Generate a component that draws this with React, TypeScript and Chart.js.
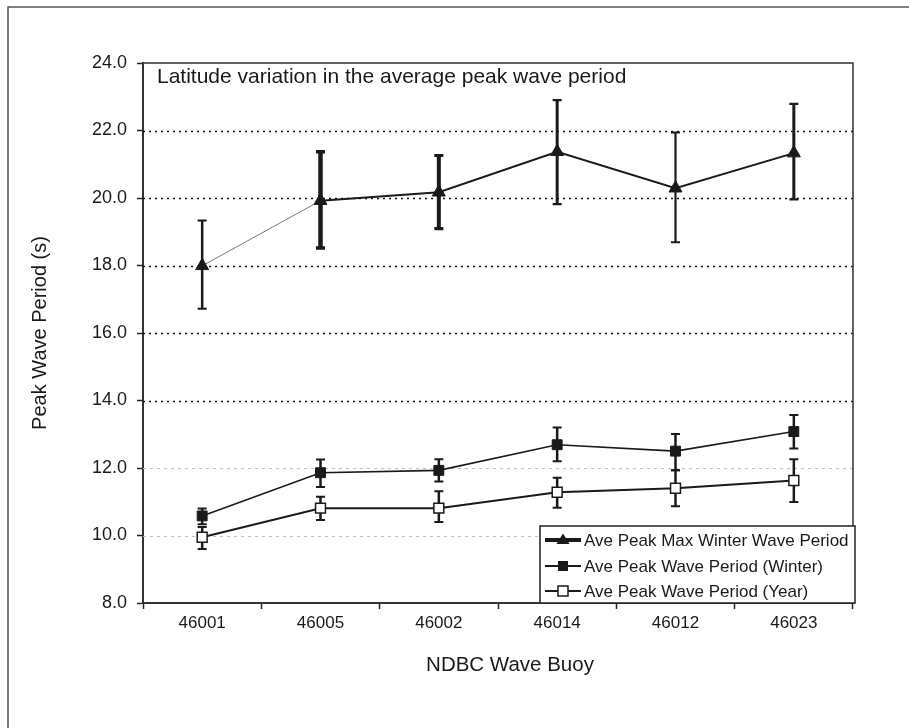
import React, { useEffect, useRef } from "react";
import { Chart, registerables } from "chart.js";

Chart.register(...registerables);

const CATEGORIES = ["46001", "46005", "46002", "46014", "46012", "46023"];

const MAX_WINTER = [17.99, 19.92, 20.17, 21.37, 20.29, 21.33];
const MAX_WINTER_LOW = [16.72, 18.52, 19.09, 19.82, 18.69, 19.96];
const MAX_WINTER_HIGH = [19.33, 21.37, 21.26, 22.9, 21.94, 22.79];

const WINTER = [10.58, 11.86, 11.93, 12.69, 12.5, 13.08];
const WINTER_LOW = [10.33, 11.44, 11.6, 12.2, 11.93, 12.58];
const WINTER_HIGH = [10.8, 12.25, 12.26, 13.2, 13.01, 13.57];

const YEAR = [9.95, 10.81, 10.81, 11.28, 11.4, 11.63];
const YEAR_LOW = [9.6, 10.46, 10.4, 10.82, 10.87, 10.99];
const YEAR_HIGH = [10.25, 11.15, 11.31, 11.71, 11.93, 12.26];

const SERIES_LABELS = [
  "Ave Peak Max Winter Wave Period",
  "Ave Peak Wave Period (Winter)",
  "Ave Peak Wave Period (Year)",
];

const Y_MIN = 8;
const Y_MAX = 24;
const Y_STEP = 2;

const CHART_TITLE = "Latitude variation in the average peak wave period";
const X_TITLE = "NDBC Wave Buoy";
const Y_TITLE = "Peak Wave Period (s)";

const FONT = "'Liberation Sans', Arial, sans-serif";
const INK = "#1a1a1a";

const ERRORS = [
  { low: MAX_WINTER_LOW, high: MAX_WINTER_HIGH, widths: [2.5, 4.5, 4, 3, 2.2, 3] },
  { low: WINTER_LOW, high: WINTER_HIGH, widths: [2.5, 2.5, 2.5, 2.5, 2.5, 2.5] },
  { low: YEAR_LOW, high: YEAR_HIGH, widths: [2.5, 2.5, 2.5, 2.5, 2.5, 2.5] },
];

const decorPlugin = {
  id: "decor",
  beforeDatasetsDraw(chart: any) {
    const ctx = chart.ctx;
    const { left, right, top, bottom } = chart.chartArea;
    const ys = chart.scales.y;
    const xs = chart.scales.x;
    ctx.save();
    ys.ticks.forEach((t: any) => {
      const v = t.value;
      if (v <= Y_MIN || v >= Y_MAX) return;
      const py = Math.round(ys.getPixelForValue(v)) + 0.5;
      ctx.beginPath();
      if (v >= 14) {
        ctx.strokeStyle = "#111";
        ctx.lineWidth = 1.6;
        ctx.setLineDash([2, 4]);
      } else {
        ctx.strokeStyle = "#bdbdbd";
        ctx.lineWidth = 1;
        ctx.setLineDash([3, 4]);
      }
      ctx.moveTo(left, py);
      ctx.lineTo(right, py);
      ctx.stroke();
    });
    ctx.setLineDash([]);
    ctx.strokeStyle = "#333";
    ctx.lineWidth = 1.5;
    ctx.beginPath();
    ctx.moveTo(left, top);
    ctx.lineTo(right, top);
    ctx.lineTo(right, bottom);
    ctx.stroke();
    ERRORS.forEach((e) => {
      CATEGORIES.forEach((_, i) => {
        const px = xs.getPixelForValue(i);
        const y1 = ys.getPixelForValue(e.low[i]);
        const y2 = ys.getPixelForValue(e.high[i]);
        const w = e.widths[i];
        ctx.strokeStyle = INK;
        ctx.lineWidth = w;
        ctx.beginPath();
        ctx.moveTo(px, y1);
        ctx.lineTo(px, y2);
        ctx.stroke();
        ctx.lineWidth = Math.max(2, w * 0.8);
        ctx.beginPath();
        ctx.moveTo(px - 4.5, y1);
        ctx.lineTo(px + 4.5, y1);
        ctx.moveTo(px - 4.5, y2);
        ctx.lineTo(px + 4.5, y2);
        ctx.stroke();
      });
    });
    ctx.restore();
  },
  afterDraw(chart: any) {
    const ctx = chart.ctx;
    const { left, top, bottom } = chart.chartArea;
    ctx.save();
    ctx.strokeStyle = "#555";
    ctx.lineWidth = 1.5;
    ctx.strokeRect(8, 7, 1000, 1000);
    ctx.fillStyle = INK;
    ctx.font = `21px ${FONT}`;
    ctx.textAlign = "left";
    ctx.textBaseline = "middle";
    ctx.fillText(CHART_TITLE, left + 14, top + 14);
    // x-axis title
    ctx.font = `20.5px ${FONT}`;
    ctx.textAlign = "center";
    ctx.fillText(X_TITLE, 510, bottom + 62);
    // legend
    const lx = 540, ly = 526, lw = 315, lh = 77;
    ctx.fillStyle = "#fff";
    ctx.fillRect(lx, ly, lw, lh);
    ctx.strokeStyle = "#222";
    ctx.lineWidth = 1.5;
    ctx.strokeRect(lx, ly, lw, lh);
    const rows = [540, 566, 591];
    chart.data.datasets.forEach((ds: any, i: number) => {
      const ry = rows[i];
      ctx.strokeStyle = INK;
      ctx.lineWidth = i === 0 ? 4 : 2;
      ctx.beginPath();
      ctx.moveTo(lx + 5, ry);
      ctx.lineTo(lx + 41, ry);
      ctx.stroke();
      const mx = lx + 23;
      ctx.lineWidth = 1.5;
      if (i === 0) {
        ctx.fillStyle = INK;
        ctx.beginPath();
        ctx.moveTo(mx, ry - 6.5);
        ctx.lineTo(mx + 6.5, ry + 4);
        ctx.lineTo(mx - 6.5, ry + 4);
        ctx.closePath();
        ctx.fill();
      } else if (i === 1) {
        ctx.fillStyle = INK;
        ctx.fillRect(mx - 5, ry - 5, 10, 10);
      } else {
        ctx.fillStyle = "#fff";
        ctx.fillRect(mx - 5, ry - 5, 10, 10);
        ctx.strokeRect(mx - 5, ry - 5, 10, 10);
      }
      ctx.fillStyle = INK;
      ctx.font = `17px ${FONT}`;
      ctx.textAlign = "left";
      ctx.textBaseline = "middle";
      ctx.fillText(ds.label, lx + 44, ry + 1);
    });
    ctx.restore();
  },
};

export default function App() {
  const ref = useRef<HTMLCanvasElement | null>(null);

  useEffect(() => {
    document.body.style.margin = "0";
    const canvas = ref.current;
    if (!canvas) return;
    const chart = new Chart(canvas, {
      type: "line",
      data: {
        labels: CATEGORIES,
        datasets: [
          {
            label: SERIES_LABELS[0],
            data: MAX_WINTER,
            borderColor: INK,
            backgroundColor: INK,
            borderWidth: 2,
            pointStyle: "triangle",
            pointRadius: 7.5,
            pointBackgroundColor: INK,
            pointBorderColor: INK,
            pointBorderWidth: 1,
            segment: {
              borderWidth: (c: any) => (c.p0DataIndex === 0 ? 1 : 2),
              borderColor: (c: any) => (c.p0DataIndex === 0 ? "#777" : INK),
            },
          },
          {
            label: SERIES_LABELS[1],
            data: WINTER,
            borderColor: INK,
            backgroundColor: INK,
            borderWidth: 1.6,
            pointStyle: "rect",
            pointRadius: 7,
            pointBackgroundColor: INK,
            pointBorderColor: INK,
            pointBorderWidth: 1,
          },
          {
            label: SERIES_LABELS[2],
            data: YEAR,
            borderColor: INK,
            backgroundColor: "#fff",
            borderWidth: 2,
            pointStyle: "rect",
            pointRadius: 7,
            pointBackgroundColor: "#fff",
            pointBorderColor: INK,
            pointBorderWidth: 1.5,
          },
        ],
      },
      options: {
        animation: false,
        responsive: false,
        maintainAspectRatio: false,
        layout: { padding: { left: 0, top: 63, right: 56, bottom: 0 } },
        plugins: {
          legend: { display: false },
          tooltip: { enabled: false },
          title: { display: false },
        },
        scales: {
          x: {
            type: "category",
            offset: true,
            grid: {
              offset: true,
              drawOnChartArea: false,
              drawTicks: true,
              tickLength: 6,
              tickColor: "#222",
              tickWidth: 1.5,
            },
            border: { color: "#333", width: 2 },
            ticks: {
              color: INK,
              font: { family: FONT, size: 17 },
              padding: 4,
              maxRotation: 0,
            },
            title: { display: false, text: X_TITLE },
            afterFit: (s: any) => {
              s.height = 125;
            },
          },
          y: {
            type: "linear",
            min: Y_MIN,
            max: Y_MAX,
            ticks: {
              stepSize: Y_STEP,
              color: INK,
              font: { family: FONT, size: 18 },
              padding: 10,
              callback: (v: any) => Number(v).toFixed(1),
            },
            grid: {
              drawOnChartArea: false,
              drawTicks: true,
              tickLength: 6,
              tickColor: "#222",
              tickWidth: 1.5,
            },
            border: { color: "#333", width: 2 },
            title: {
              display: true,
              text: Y_TITLE,
              color: INK,
              font: { family: FONT, size: 20 },
              padding: { top: 28, bottom: 0 },
            },
            afterFit: (s: any) => {
              s.width = 143;
            },
          },
        },
      },
      plugins: [decorPlugin],
    });
    return () => chart.destroy();
  }, []);

  return (
    <div style={{ width: 909, height: 728, position: "relative" }}>
      <canvas ref={ref} width={909} height={728} style={{ display: "block" }} />
    </div>
  );
}
